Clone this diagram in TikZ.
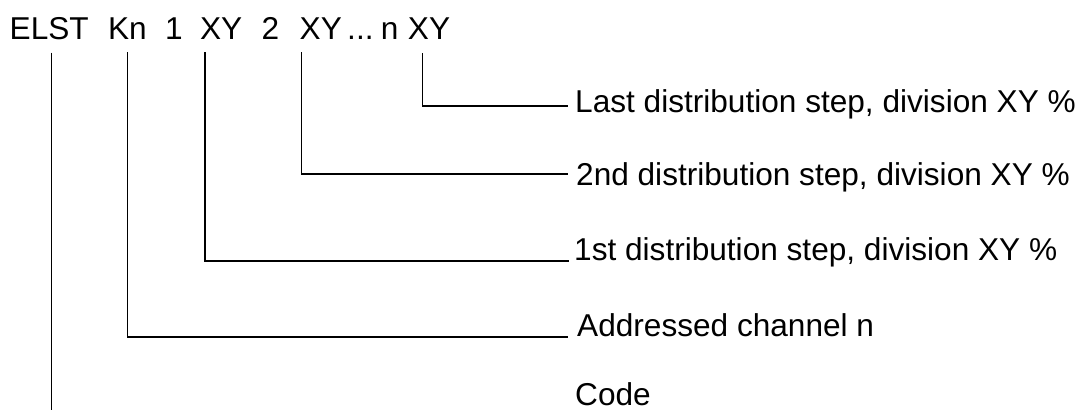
\documentclass[tikz,border=0pt]{standalone}
\usepackage{fontspec}
\setmainfont{Liberation Sans}
\usepackage{tikz}
\usetikzlibrary{positioning}

\newcommand{\codefont}{\fontsize{31.6pt}{38pt}\selectfont}

\begin{document}
\begin{tikzpicture}[
                x=1pt, y=1pt,
                token/.style={
                    inner sep=0pt,
                    font=\codefont
                },
                desc/.style={
                    inner sep=0pt,
                    anchor=base west,
                    font=\codefont
                },
                lead/.style={
                    draw=black,
                    line width=1.2pt
                }
            ]

            \useasboundingbox (0,0) rectangle (1086,-411);

            % --- Kopfzeile (Befehl) ---
            \node[token, anchor=base west] (elst) at (9.5,-40) {ELST};
            \node[token, base right=19pt of elst] (kn) {Kn};
            \node[token, base right=18pt of kn] (one) {1};
            \node[token, base right=17pt of one] (xya) {XY};
            \node[token, base right=19pt of xya] (two) {2};
            \node[token, base right=20pt of two] (xyb) {XY};
            \node[token, base right=5pt of xyb] (dots) {...};
            \node[token, base right=7pt of dots] (enn) {n};
            \node[token, base right=9pt of enn] (xyn) {XY};

            % --- Erklaerungen ---
            \node[desc] (last) at (575,-113) {Last distribution step, division XY \%};
            \node[desc] (second) at (576,-186) {2nd distribution step, division XY \%};
            \node[desc] (first) at (574,-261) {1st distribution step, division XY \%};
            \node[desc] (addr) at (577,-336) {Addressed channel n};
            \node[desc] (code) at (575,-405) {Code};

            % --- Verbindungslinien ---
            \draw[lead] ([xshift=15pt, yshift=-13pt]xyn.south west) |- ([xshift=-7pt, yshift=7pt]last.base west);
            \draw[lead] ([xshift=2pt, yshift=-12pt]xyb.south west) |- ([xshift=-8pt, yshift=12pt]second.base west);
            \draw[lead] ([xshift=5pt, yshift=-12pt]xya.south west) |- ([xshift=-5pt]first.base west);
            \draw[lead] ([yshift=-12pt]kn.south) |- ([xshift=-9pt, yshift=-1pt]addr.base west);
            \draw[lead] ([xshift=2pt, yshift=-12pt]elst.south) -- ([xshift=2pt, yshift=-5pt]elst.south |- code.base);

        \end{tikzpicture}
\end{document}
